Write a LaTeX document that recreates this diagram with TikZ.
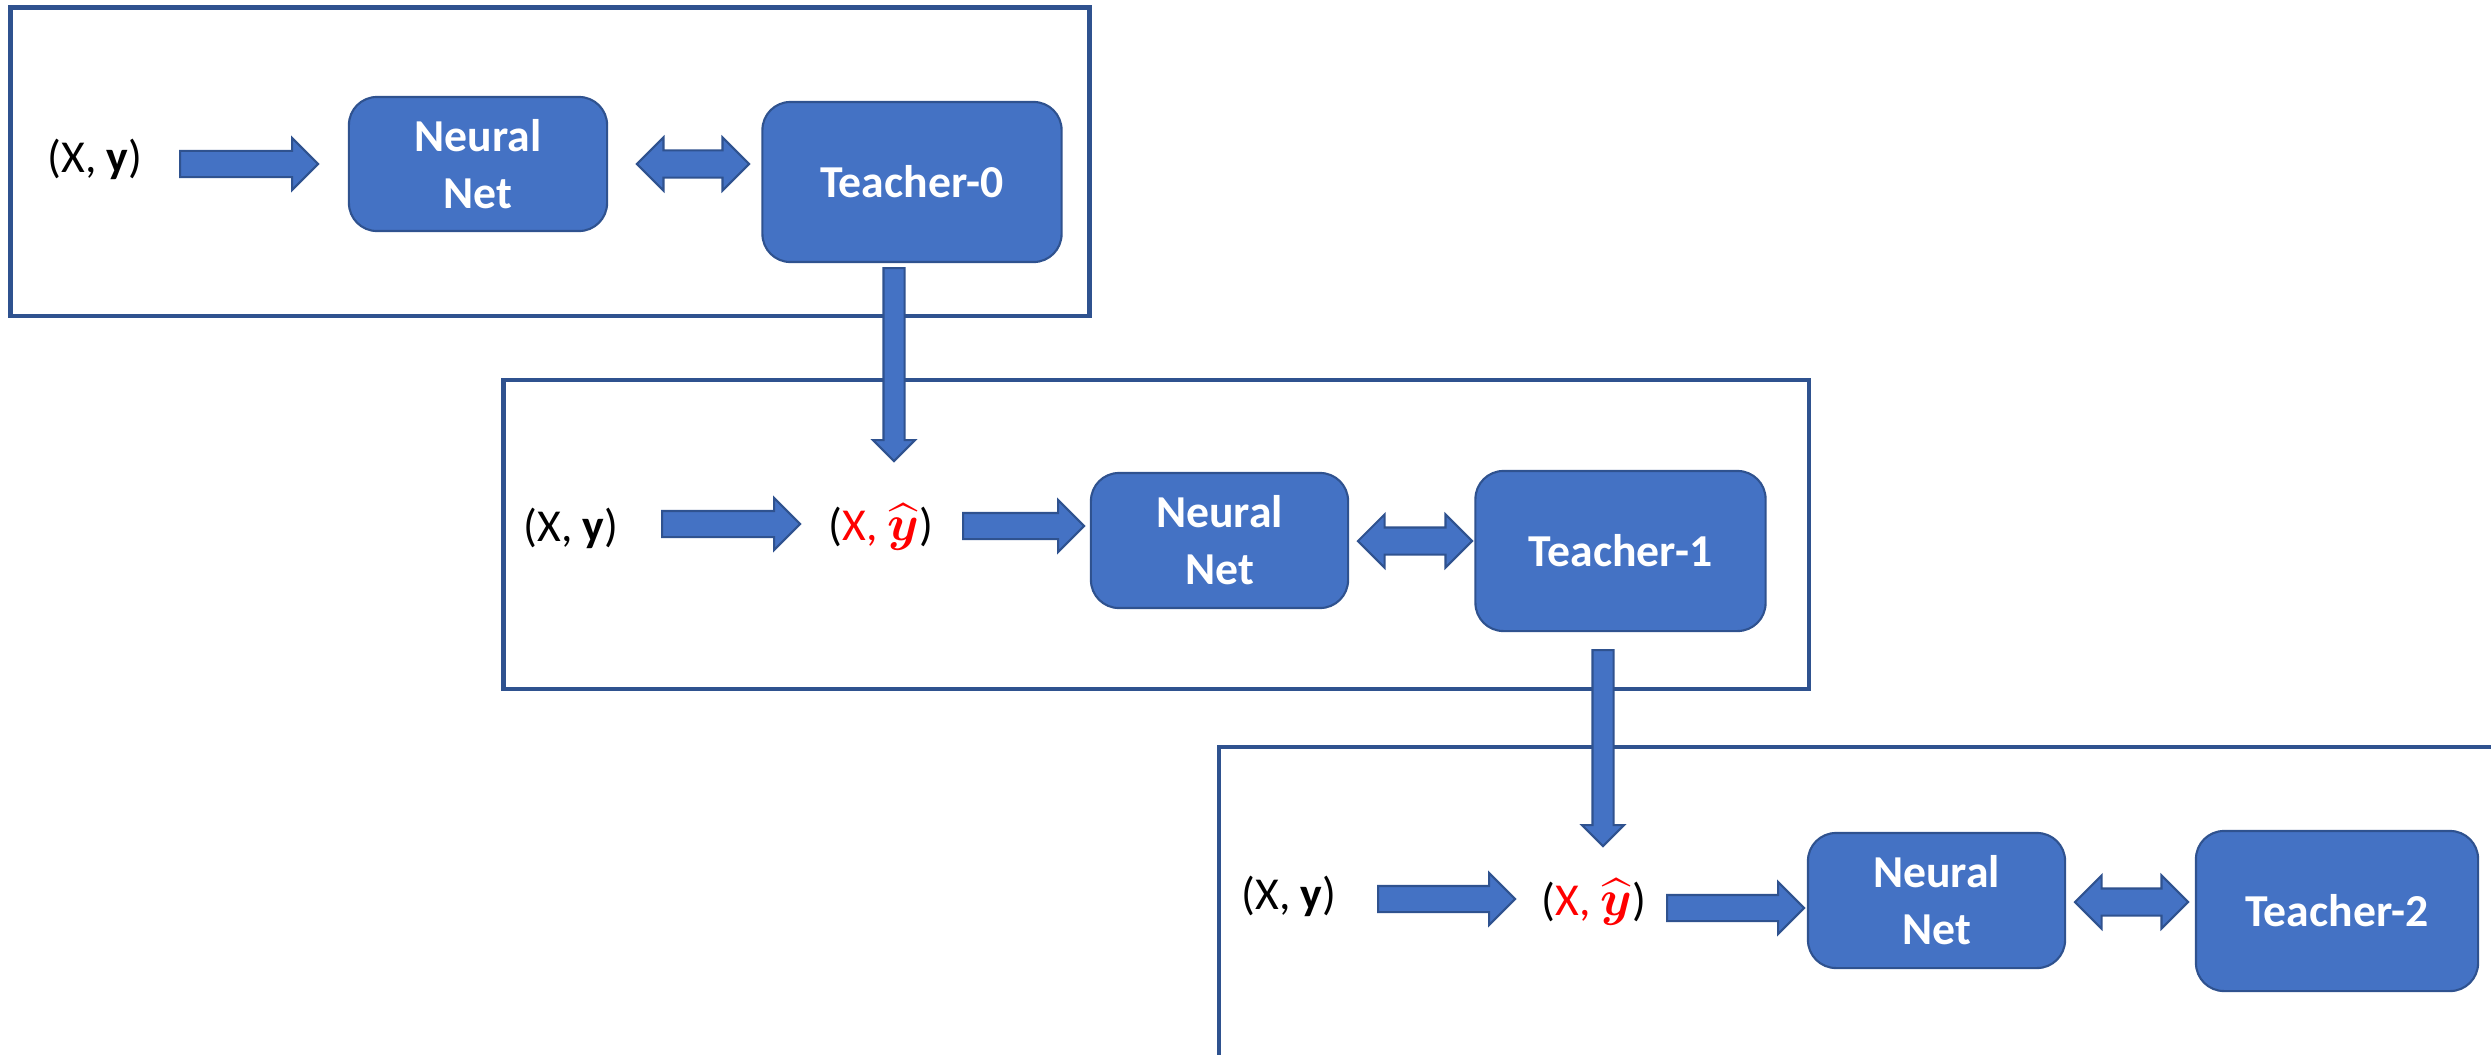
\documentclass[tikz,border=0pt]{standalone}
\usepackage{fontspec}
\setmainfont{Carlito}
\usepackage{amsmath}
\usetikzlibrary{shapes.arrows}
\definecolor{nnblue}{HTML}{4472C4}
\definecolor{nnedge}{HTML}{2F528F}
\newcommand{\softy}{{\fontsize{15}{18}\selectfont$\widehat{\boldsymbol{y}}$}}

\begin{document}
\begin{tikzpicture}[x=0.01cm, y=-0.01cm, font=\fontsize{13}{16.2}\selectfont,
	stage/.style={draw=nnedge, line width=1.2pt},
	block/.style={draw=nnedge, fill=nnblue, line width=0.6pt, rounded corners=0.28cm,
		text=white, font=\fontsize{13}{16.2}\selectfont\bfseries, align=center},
	net/.style={block, minimum width=2.57cm, minimum height=1.35cm},
	teacher/.style={block, minimum width=2.9cm, minimum height=1.6cm},
	fat/.style={single arrow, draw=nnedge, fill=nnblue, line width=0.6pt, inner sep=0pt,
		inner ysep=0.12cm, minimum width=0.5cm, single arrow head extend=0.13cm, anchor=tail},
	vfat/.style={fat, inner ysep=0.095cm, minimum width=0.4cm, single arrow head extend=0.105cm, rotate=-90},
	fatboth/.style={double arrow, draw=nnedge, fill=nnblue, line width=0.6pt, inner sep=0pt,
		inner ysep=0.125cm, minimum width=0.51cm, double arrow head extend=0.13cm}]
	\useasboundingbox (0,0) rectangle (2491,1054);
	\clip (0,0) rectangle (2491,1054);
	% the three stages
	\draw[stage] (10.5,7.5) rectangle (1089.5,316);
	\draw[stage] (503.5,380) rectangle (1809,689);
	\draw[stage] (1219,747) rectangle (2560,1120);
	% stage 0
	\node (in0) at (95,159) {(X, \textbf{y})};
	\node[net, minimum width=2.58cm, minimum height=1.34cm] (nn0) at (478,164) {Neural\\Net};
	\node[teacher, minimum width=2.99cm] (t0) at (912,182) {Teacher-0};
	\node[fat, minimum height=1.38cm] (a0) at (179,164) {};
	\node[fatboth, minimum height=1.12cm] (d0) at (693,164) {};
	% stage 1
	\node (in1) at (571,528) {(X, \textbf{y})};
	\node (soft1) at (881,527) {(\textcolor{red}{X, \softy})};
	\node[net] (nn1) at (1219.5,540.5) {Neural\\Net};
	\node[teacher] (t1) at (1620.5,551) {Teacher-1};
	\node[fat, minimum height=1.38cm] (a1) at (661,524) {};
	\node[fat, minimum height=1.21cm] (b1) at (962,526) {};
	\node[fatboth, minimum height=1.14cm] (d1) at (1415,541) {};
	% stage 2
	\node (in2) at (1289,896) {(X, \textbf{y})};
	\node (soft2) at (1594,902) {(\textcolor{red}{X, \softy})};
	\node[net] (nn2) at (1936.5,900.5) {Neural\\Net};
	\node[teacher, minimum width=2.82cm] (t2) at (2337,911) {Teacher-2};
	\node[fat, minimum height=1.37cm] (a2) at (1377,899) {};
	\node[fat, minimum height=1.37cm] (b2) at (1666,908) {};
	\node[fatboth, minimum height=1.13cm] (d2) at (2131.5,902) {};
	% teacher labels passed on
	\node[vfat, minimum height=1.93cm] (v0) at (894,267) {};
	\node[vfat, minimum height=1.96cm] (v1) at (1603,649) {};
\end{tikzpicture}
\end{document}
